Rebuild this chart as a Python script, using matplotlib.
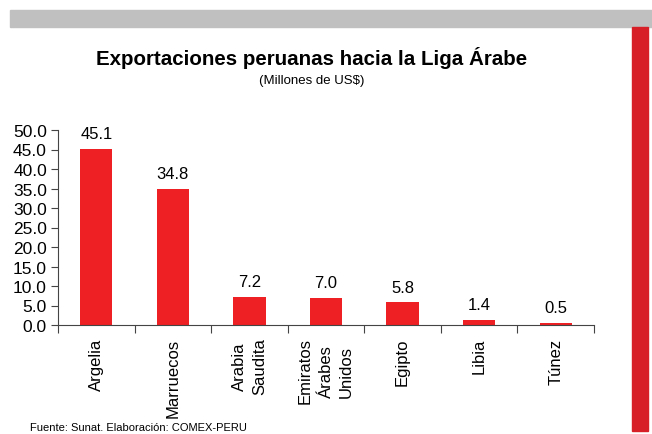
import matplotlib.pyplot as plt
import numpy as np
from matplotlib.patches import Rectangle

# data
paises = ["Argelia", "Marruecos", "Arabia\nSaudita", "Emiratos\nÁrabes\nUnidos",
          "Egipto", "Libia", "Túnez"]
valores = [45.1, 34.8, 7.2, 7.0, 5.8, 1.4, 0.5]
yticks = [0, 5, 10, 15, 20, 25, 30, 35, 40, 45, 50]

plt.rcParams['font.family'] = ['Liberation Sans', 'DejaVu Sans']

fig = plt.figure(figsize=(6.52, 4.35), dpi=100)
W, H = 652, 435

# decorative frame: gray band on top, red strip on the right
fig.patches.append(Rectangle((10 / W, 1 - 28 / H), 1 - 10 / W, 17 / H,
                             transform=fig.transFigure, color='#c0c0c0', zorder=0))
fig.patches.append(Rectangle((632 / W, 1 - 432 / H), 16 / W, 404 / H,
                             transform=fig.transFigure, color='#d71f27', zorder=0))

ax = fig.add_axes([58 / W, 1 - 326 / H, (594 - 58) / W, (326 - 131) / H])
x = np.arange(len(paises))
bars = ax.bar(x, valores, width=0.42, color='#ee2024')
for xi, v in zip(x, valores):
    ax.text(xi, v + 2.0, f"{v:.1f}", ha='center', va='bottom', fontsize=12)

ax.set_xlim(-0.5, len(paises) - 0.5)
ax.set_ylim(0, 50)
ax.set_yticks(yticks)
ax.set_yticklabels([f"{t:.1f}" for t in yticks], fontsize=12.5)
ax.tick_params(axis='y', length=5, width=0.8, color='#444444', pad=3)

# category labels between boundary ticks
ax.set_xticks(x)
ax.set_xticklabels(paises, rotation=90, fontsize=12, va='top', ha='center',
                   multialignment='center', linespacing=1.45)
ax.tick_params(axis='x', which='major', length=0, pad=9)
ax.set_xticks(np.arange(-0.5, len(paises)), minor=True)
ax.tick_params(axis='x', which='minor', length=6, width=0.8, color='#444444')

for s in ['top', 'right']:
    ax.spines[s].set_visible(False)
for s in ['left', 'bottom']:
    ax.spines[s].set_color('#444444')
    ax.spines[s].set_linewidth(0.8)

fig.text(312 / W, 1 - 58 / H, "Exportaciones peruanas hacia la Liga Árabe",
         ha='center', va='center', fontsize=14.8, fontweight='bold')
fig.text(312 / W, 1 - 81 / H, "(Millones de US$)", ha='center', va='center', fontsize=9.5)
fig.text(30 / W, 1 - 428 / H, "Fuente: Sunat. Elaboración: COMEX-PERU",
         ha='left', va='center', fontsize=8)

fig.savefig("out.png", dpi=100)
